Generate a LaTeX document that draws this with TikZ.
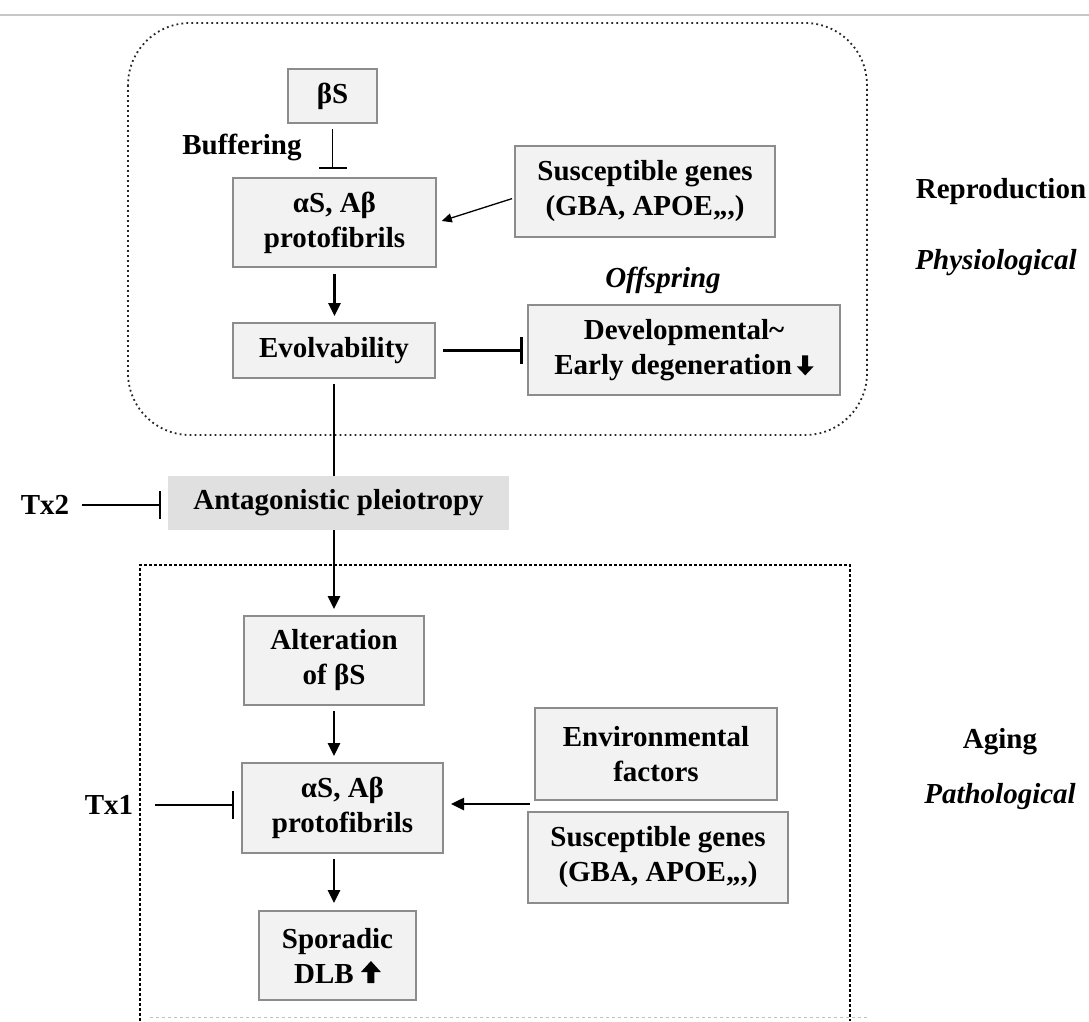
\documentclass[tikz,border=0pt]{standalone}
\usepackage{fontspec}
\setmainfont{Liberation Serif}
\usetikzlibrary{arrows.meta}
\definecolor{boxfill}{HTML}{F2F2F2}
\definecolor{boxline}{HTML}{8C8C8C}
\definecolor{apfill}{HTML}{E0E0E0}
\newcommand{\dnarrowglyph}{\tikz[baseline=0pt,x=1pt,y=1pt]\fill (-3,19)--(3,19)--(3,8)--(8.5,8)--(0,-1)--(-8.5,8)--(-3,8)--cycle;}
\newcommand{\uparrowglyph}{\tikz[baseline=0pt,x=1pt,y=1pt]\fill (-3.5,0)--(3.5,0)--(3.5,11)--(10,11)--(0,22)--(-10,11)--(-3.5,11)--cycle;}
\begin{document}
\begin{tikzpicture}[x=1pt,y=-1pt,
  every node/.style={font=\fontsize{29}{35}\selectfont\bfseries, inner sep=0pt},
  box/.style={draw=boxline, line width=2pt, fill=boxfill, align=center},
  lbl/.style={align=center},
  ilbl/.style={font=\fontsize{29}{35}\selectfont\bfseries\itshape},
  thk/.style={line width=2.6pt, -{Triangle[length=13pt,width=12pt]}},
  thn/.style={line width=1.3pt, -{Triangle[length=10pt,width=9pt]}},
  inhthin/.style={line width=1.3pt, -{Bar[width=28pt,line width=1.8pt]}},
  inhthick/.style={line width=2.8pt, -{Bar[width=27pt]}},
]
\fill[white] (0,0) rectangle (1089,1021);
\useasboundingbox (0,0) rectangle (1089,1021);
% frames
\draw[black!22, line width=1.5pt] (0,15) -- (1089,15);
\draw[black!85, line width=1.8pt, dash pattern=on 1.8pt off 3.2pt, rounded corners=62pt] (128,23) rectangle (867,435);
\draw[black, line width=1.6pt, dash pattern=on 3pt off 2pt] (140,1021) -- (140,565) -- (850,565) -- (850,1021);
\draw[black!25, line width=1pt, dash pattern=on 3pt off 3pt] (150,1017) -- (870,1017);
% upper nodes
\node[box, minimum width=89pt, minimum height=54pt] (bs) at (332.5,96) {βS};
\node[box, minimum width=203pt, minimum height=89pt] (a1) at (334.5,222.5) {αS, Aβ\\protofibrils};
\node[box, minimum width=260pt, minimum height=91pt] (sg1) at (645,191.5) {Susceptible genes\\(GBA, APOE,,,)};
\node[box, minimum width=202pt, minimum height=55pt] (evo) at (334,350.5) {Evolvability};
\node[box, minimum width=312pt, minimum height=90pt] (dev) at (684,350) {Developmental\char"007E\\Early degeneration\,\dnarrowglyph};
\node[lbl] (buf) at (242,147) {Buffering};
\node[ilbl] (off) at (663,280) {Offspring};
\node[lbl] (rep) at (1001,192) {Reproduction};
\node[ilbl] (phy) at (996,263) {Physiological};
% middle
\node[fill=apfill, minimum width=341pt, minimum height=54pt] (ap) at (338.5,503) {Antagonistic pleiotropy};
\node[lbl] (tx2) at (45,505) {Tx2};
% lower nodes
\node[box, minimum width=180pt, minimum height=89pt] (alt) at (334,660.5) {Alteration\\of βS};
\node[box, minimum width=201pt, minimum height=90pt] (a2) at (342.5,808) {αS, Aβ\\protofibrils};
\node[lbl] (tx1) at (109,805) {Tx1};
\node[box, minimum width=242pt, minimum height=92pt] (env) at (656,754) {Environmental\\factors};
\node[box, minimum width=260pt, minimum height=91pt] (sg2) at (658,857.5) {Susceptible genes\\(GBA, APOE,,,)};
\node[box, minimum width=157pt, minimum height=89pt] (spo) at (337.5,955.5) {Sporadic\\DLB \uparrowglyph};
\node[lbl] (aging) at (1000,742) {Aging};
\node[ilbl] (path) at (1000,797) {Pathological};
% connectors
\draw[inhthin, shorten <=5pt, shorten >=8pt] (bs.south) -- (bs.south |- a1.north);
\draw[thn, shorten <=2pt, shorten >=5pt] ([yshift=-6.5pt]sg1.west) -- (a1.east);
\draw[thk, shorten <=6pt, shorten >=6pt] (a1.south) -- (a1.south |- evo.north);
\draw[inhthick, shorten <=7pt, shorten >=4pt] (evo.east) -- (evo.east -| dev.west);
\draw[line width=2.8pt, shorten <=5pt] (evo.south) -- (evo.south |- ap.north);
\draw[thk, shorten >=6pt] (alt.north |- ap.south) -- (alt.north);
\draw[inhthin, shorten <=13pt, shorten >=7pt] (tx2.east) -- (tx2.east -| ap.west);
\draw[thk, shorten <=5pt, shorten >=6pt] (alt.south) -- (alt.south |- a2.north);
\draw[inhthin, shorten <=22pt, shorten >=7pt] (tx1.east) -- (tx1.east -| a2.west);
\coordinate (envj) at (530,804);
\draw[thk, shorten >=7pt] (envj) -- (envj -| a2.east);
\draw[thk, shorten <=5pt, shorten >=7pt] (alt.south |- a2.south) -- (alt.south |- spo.north);
\end{tikzpicture}
\end{document}
